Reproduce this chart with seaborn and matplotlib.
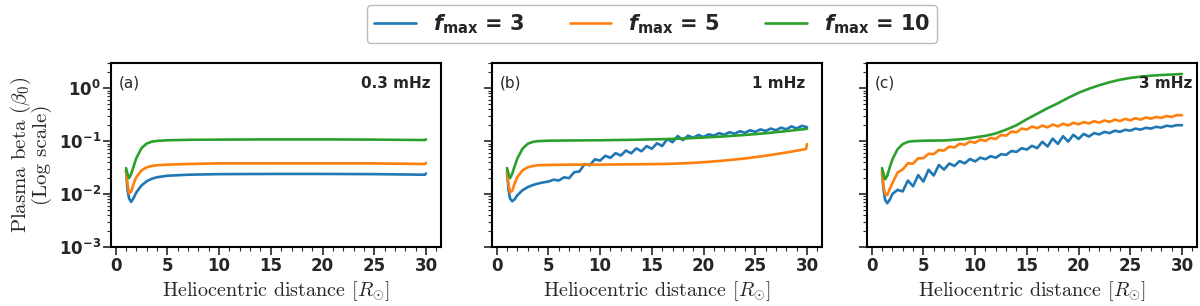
import matplotlib
matplotlib.use("Agg")
import matplotlib.pyplot as plt
import numpy as np
import pandas as pd
import seaborn as sns
from matplotlib.ticker import FixedLocator, FuncFormatter, MultipleLocator, LogLocator, NullFormatter

# ---- DATA ----
labels_f = ["3", "5", "10"]
colors = ["#1f77b4", "#ff7f0e", "#2ca02c"]
freqs = ["0.3 mHz", "1 mHz", "3 mHz"]
panels = ["(a)", "(b)", "(c)"]

# smooth grid
x_s = [1.0, 1.15, 1.3, 1.5, 1.75, 2.0, 2.5, 3.0, 3.5, 4, 5, 7, 10, 15, 20, 25, 29.9, 30]
# wiggly grid
x_w = [1.0, 1.15, 1.3, 1.5, 1.75] + list(np.arange(2.0, 30.01, 0.5))

# panel (a)
a_f3 = [0.028, 0.012, 0.0082, 0.0071, 0.0085, 0.0108, 0.0145, 0.0175, 0.0195, 0.0208,
        0.0222, 0.0232, 0.0238, 0.024, 0.024, 0.0238, 0.0232, 0.0245]
a_f5 = [0.028, 0.015, 0.0105, 0.011, 0.016, 0.021, 0.028, 0.032, 0.034, 0.035,
        0.036, 0.037, 0.038, 0.038, 0.038, 0.038, 0.037, 0.039]
a_f10 = [0.031, 0.024, 0.020, 0.024, 0.034, 0.048, 0.074, 0.090, 0.098, 0.101,
         0.104, 0.106, 0.107, 0.108, 0.108, 0.107, 0.105, 0.108]

# panel (b)
b_f3 = [0.026, 0.012, 0.0082, 0.0073, 0.0080,
        0.0095, 0.0118, 0.0135, 0.0148, 0.0158, 0.0166, 0.0172, 0.0187, 0.0180, 0.0207,
        0.020, 0.0259, 0.0267, 0.0367, 0.035, 0.0454, 0.0428, 0.0529, 0.0484, 0.0594,
        0.0534, 0.0665, 0.0589, 0.073, 0.0644, 0.0807, 0.0718, 0.0913, 0.081, 0.110,
        0.0954, 0.125, 0.105, 0.127, 0.116, 0.131, 0.120, 0.135, 0.127, 0.142,
        0.132, 0.148, 0.138, 0.154, 0.144, 0.161, 0.150, 0.167, 0.156, 0.173,
        0.161, 0.180, 0.168, 0.190, 0.174, 0.195, 0.184]
x_b = [1.0, 1.15, 1.3, 1.5, 1.75, 2.0, 2.5, 3.0, 3.5, 4, 5, 7, 10, 13, 16, 18, 20, 22, 24, 26, 28, 29.9, 30]
b_f5 = [0.028, 0.015, 0.0108, 0.0115, 0.016, 0.021, 0.028, 0.032, 0.034, 0.035,
        0.0355, 0.036, 0.036, 0.0365, 0.037, 0.038, 0.040, 0.043, 0.047, 0.053, 0.061, 0.071, 0.088]
b_f10 = [0.031, 0.024, 0.020, 0.024, 0.034, 0.047, 0.072, 0.089, 0.097, 0.100,
         0.102, 0.103, 0.104, 0.106, 0.109, 0.112, 0.117, 0.123, 0.131, 0.141, 0.155, 0.170, 0.172]

# panel (c)
c_f3 = [0.025, 0.012, 0.0078, 0.0067, 0.0078,
        0.0100, 0.0120, 0.0112, 0.018, 0.014, 0.0228, 0.0172, 0.0288, 0.0224, 0.0354,
        0.029, 0.0378, 0.034, 0.042, 0.038, 0.046, 0.0414, 0.0488, 0.0456, 0.052,
        0.0485, 0.0567, 0.0551, 0.0651, 0.0627, 0.0735, 0.0694, 0.0816, 0.0738, 0.0974,
        0.0792, 0.1116, 0.0886, 0.124, 0.0983, 0.132, 0.110, 0.137, 0.122, 0.142,
        0.134, 0.150, 0.142, 0.158, 0.150, 0.164, 0.158, 0.173, 0.165, 0.179,
        0.173, 0.187, 0.180, 0.196, 0.190, 0.201, 0.200]
c_f5 = [0.028, 0.014, 0.0100, 0.0095, 0.0125,
        0.016, 0.0254, 0.0291, 0.0382, 0.0376, 0.0477, 0.0475, 0.0578, 0.057, 0.0683,
        0.0665, 0.0788, 0.076, 0.0893, 0.0855, 0.0987, 0.0931, 0.107, 0.1007, 0.1155,
        0.110, 0.131, 0.127, 0.152, 0.147, 0.173, 0.166, 0.189, 0.176, 0.197,
        0.182, 0.206, 0.190, 0.214, 0.198, 0.223, 0.208, 0.230, 0.216, 0.238,
        0.224, 0.246, 0.231, 0.255, 0.240, 0.264, 0.248, 0.272, 0.255, 0.281,
        0.266, 0.287, 0.275, 0.299, 0.287, 0.311, 0.308]
x_cg = [1.0, 1.15, 1.3, 1.5, 1.75, 2.0, 2.5, 3.0, 3.5, 4, 5, 7, 9, 10, 11, 12, 13, 14, 15,
        16, 17, 18, 19, 20, 21, 22, 23, 24, 25, 26, 27, 28, 29, 30]
c_f10 = [0.031, 0.024, 0.019, 0.022, 0.032, 0.045, 0.070, 0.088, 0.097, 0.100, 0.102,
         0.103, 0.110, 0.118, 0.126, 0.140, 0.165, 0.20, 0.26, 0.33, 0.42, 0.52, 0.66,
         0.82, 0.98, 1.14, 1.30, 1.45, 1.57, 1.66, 1.73, 1.78, 1.82, 1.86]

series = [
    [(x_s, a_f3), (x_s, a_f5), (x_s, a_f10)],
    [(x_w, b_f3), (x_b, b_f5), (x_b, b_f10)],
    [(x_w, c_f3), (x_w, c_f5), (x_cg, c_f10)],
]

# ---- PLOT ----
sns.set_theme(style="ticks")
plt.rcParams["font.family"] = ["DejaVu Sans"]

fig = plt.figure(figsize=(12, 3.06), dpi=100)
lefts = [0.0925, 0.41, 0.7225]
label_x = [0.97, 0.95, 0.985]
axes = []
for i in range(3):
    ax = fig.add_axes([lefts[i], 0.193, 0.275, 0.601])
    axes.append(ax)
    for j, (xs, ys) in enumerate(series[i]):
        df = pd.DataFrame({"x": xs, "y": ys})
        sns.lineplot(data=df, x="x", y="y", ax=ax, color=colors[j], lw=1.9,
                     label=r"$\mathbfit{f}_{\mathbf{max}}$ = " + labels_f[j], legend=False)
    ax.set_yscale("log")
    ax.set_ylim(1e-3, 3)
    ax.set_xlim(-0.45, 31.45)
    ax.xaxis.set_major_locator(MultipleLocator(5))
    ax.xaxis.set_minor_locator(MultipleLocator(1))
    ax.yaxis.set_major_locator(FixedLocator([1e-3, 1e-2, 1e-1, 1]))
    ax.yaxis.set_minor_locator(LogLocator(base=10, subs=np.arange(2, 10)))
    ax.yaxis.set_minor_formatter(NullFormatter())
    if i == 0:
        ax.yaxis.set_major_formatter(FuncFormatter(
            lambda v, p: r"$\mathbf{10^{%d}}$" % int(round(np.log10(v)))))
        ax.set_ylabel("Plasma beta ($\\beta_0$)\n(Log scale)", fontsize=15,
                      family="cmr10", math_fontfamily="cm", labelpad=5, linespacing=0.95)
    else:
        ax.yaxis.set_major_formatter(NullFormatter())
        ax.set_ylabel("")
    ax.set_xlabel(r"Heliocentric distance [$R_{\odot}$]", fontsize=14.5,
                  family="cmr10", math_fontfamily="cm", labelpad=3)
    ax.tick_params(axis="both", which="major", labelsize=12, length=5.5, width=1.2,
                   direction="out", pad=1.5)
    ax.tick_params(axis="both", which="minor", length=2.8, width=0.8, direction="out")
    for lab in ax.get_xticklabels() + ax.get_yticklabels():
        lab.set_fontweight("bold")
    for s in ax.spines.values():
        s.set_visible(True)
        s.set_linewidth(1.5)
        s.set_color("black")
    ax.text(0.025, 0.93, panels[i], transform=ax.transAxes, ha="left", va="top", fontsize=11)
    ax.text(label_x[i], 0.93, freqs[i], transform=ax.transAxes, ha="right", va="top",
            fontsize=11, fontweight="bold")

handles, labs = axes[0].get_legend_handles_labels()
fig.legend(handles, labs, loc="upper center", bbox_to_anchor=(0.5435, 1.018), ncol=3,
           prop={"size": 15, "weight": "bold"}, frameon=True, fancybox=True,
           edgecolor="#aaaaaa", columnspacing=2.2, handlelength=2.0, borderpad=0.35)

fig.savefig("out.png", dpi=100)
